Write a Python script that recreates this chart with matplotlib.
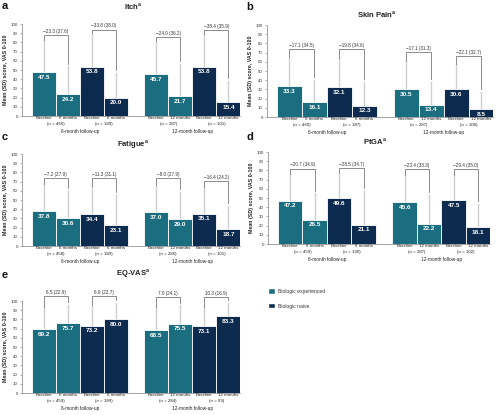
import matplotlib
matplotlib.use('Agg')
import matplotlib.pyplot as plt
from matplotlib.patches import Patch

plt.rcParams['font.family'] = ['Liberation Sans', 'DejaVu Sans']

# ---- data ----
titles = ["Itch", "Skin Pain", "Fatigue", "PtGA", "EQ-VAS"]
letters = ["a", "b", "c", "d", "e"]
ticks = ["Baseline", "6 months", "Baseline", "6 months",
         "Baseline", "12 months", "Baseline", "12 months"]
followups = ["6-month follow-up", "12-month follow-up"]
groups = ["Biologic experienced", "Biologic naive"]

itch_mean = [47.5, 24.2, 53.8, 20.0, 45.7, 21.7, 53.8, 15.4]
itch_sd = [35.5, 29.8, 36.2, 27.0, 35.3, 35.3, 35.2, 22.6]
itch_n = [460, 189, 287, 101]
itch_diff = ["−23.3 (37.6)", "−33.8 (38.0)", "−24.0 (36.2)", "−38.4 (35.9)"]
itch_br = [88, 94, 86, 93.5]

pain_mean = [33.3, 16.1, 32.1, 12.3, 30.5, 13.4, 30.6, 8.5]
pain_sd = [31.7, 23.9, 31.9, 25.7, 30.5, 24.6, 27.4, 18.5]
pain_n = [460, 187, 287, 100]
pain_diff = ["−17.1 (34.5)", "−19.8 (34.6)", "−17.1 (31.3)", "−22.1 (32.7)"]
pain_br = [73.5, 73.5, 71, 66]

fat_mean = [37.8, 30.6, 34.4, 23.1, 37.0, 29.0, 35.1, 18.7]
fat_sd = [29.2, 29.4, 31.1, 32.4, 29.5, 30.0, 29.4, 25.3]
fat_n = [458, 189, 286, 101]
fat_diff = ["−7.2 (27.9)", "−11.3 (31.1)", "−8.0 (27.9)", "−16.4 (24.2)"]
fat_br = [73.5, 73.5, 73.5, 71]

ptga_mean = [47.2, 26.5, 49.6, 21.1, 45.6, 22.2, 47.5, 18.1]
ptga_sd = [29.3, 28.5, 27.9, 36.9, 29.9, 30.8, 27.5, 25.9]
ptga_n = [459, 190, 287, 102]
ptga_diff = ["−20.7 (34.9)", "−28.5 (34.7)", "−23.4 (33.3)", "−29.4 (35.0)"]
ptga_br = [82, 83, 81, 81]

eq_mean = [69.2, 75.7, 73.2, 80.0, 68.5, 75.5, 73.1, 83.3]
eq_sd = [24.3, 20.3, 22.1, 17.8, 25.0, 19.8, 20.4, 14.5]
eq_n = [459, 189, 284, 99]
eq_diff = ["6.5 (22.9)", "6.9 (22.7)", "7.0 (24.1)", "10.3 (16.9)"]
eq_br = [105.5, 105.5, 104.3, 104.3]

TEAL = '#1a6e80'
NAVY = '#0d2b4e'
AXC = '#7f7f7f'

W, H = 500, 415
fig = plt.figure(figsize=(5, 4.15), dpi=100)

def px_axes(l, t, w, h):
    return fig.add_axes([l / W, 1 - (t + h) / H, w / W, h / H])

xpos = [0, 1, 2, 3, 4.67, 5.67, 6.67, 7.67]
colors = [TEAL, TEAL, NAVY, NAVY] * 2

def panel(ax, means, sds, ns, diffs, brs):
    ax.bar(xpos, means, width=1, color=colors, edgecolor='white', linewidth=0.6, zorder=2)
    for x, m, s in zip(xpos, means, sds):
        ax.plot([x, x], [m, m + s], color='#cfcfcf', lw=1.0, zorder=1, clip_on=False)
        ax.annotate(f"{m:.1f}", (x, m), xytext=(0, -2), textcoords='offset points',
                    ha='center', va='top', color='white', fontweight='bold', fontsize=4.6)
    for i in range(4):
        x0, x1 = xpos[2 * i], xpos[2 * i + 1]
        y0 = means[2 * i] + sds[2 * i]
        y1 = means[2 * i + 1] + sds[2 * i + 1] + 3
        h = brs[i]
        ax.plot([x0, x0, x1, x1], [y0, h, h, y1], color='#7a7a7a', lw=0.6,
                zorder=3, clip_on=False)
        ax.text((x0 + x1) / 2, h + 1.2, diffs[i], ha='center', va='bottom',
                fontsize=3.3, color='#333333', clip_on=False)
        ax.annotate(f"(n = {ns[i]})", ((x0 + x1) / 2, 0), xytext=(0, -6.1),
                    textcoords='offset points', ha='center', va='center', fontsize=3.2,
                    color='#222222', annotation_clip=False)
    for x, t in zip(xpos, ticks):
        ax.annotate(t, (x, 0), xytext=(0, -1.6), textcoords='offset points',
                    ha='center', va='center', fontsize=3.2, color='#222222',
                    annotation_clip=False)
    for c, t in zip([1.5, 6.17], followups):
        ax.annotate(t, (c, 0), xytext=(0, -11.2), textcoords='offset points',
                    ha='center', va='center', fontsize=3.4, color='#222222',
                    annotation_clip=False)
    ax.set_xlim(-0.9, 8.15)
    ax.set_ylim(0, 100)
    ax.set_yticks(range(0, 101, 10))
    ax.set_xticks([])
    ax.tick_params(axis='y', labelsize=3.2, length=1.5, width=0.4, color=AXC,
                   labelcolor='#333333', pad=1.5)
    for s in ['top', 'right']:
        ax.spines[s].set_visible(False)
    for s in ['left', 'bottom']:
        ax.spines[s].set_color(AXC)
        ax.spines[s].set_linewidth(0.5)
    ax.set_ylabel("Mean (SD) score, VAS 0-100", fontsize=3.8, fontweight='bold',
                  labelpad=2, color='#222222')

rects = [(22, 24, 218, 92), (267, 25, 226, 92), (22, 154, 218, 92),
         (268, 152, 222, 92), (22, 301, 218, 92)]
data = [(itch_mean, itch_sd, itch_n, itch_diff, itch_br),
        (pain_mean, pain_sd, pain_n, pain_diff, pain_br),
        (fat_mean, fat_sd, fat_n, fat_diff, fat_br),
        (ptga_mean, ptga_sd, ptga_n, ptga_diff, ptga_br),
        (eq_mean, eq_sd, eq_n, eq_diff, eq_br)]
title_pos = [(133, 7), (377, 15), (133, 145), (375, 142), (133, 274)]
letter_pos = [(5, 6), (250, 7), (5, 137), (250, 137), (5, 275)]

for r, d, t, tp, lt, lp in zip(rects, data, titles, title_pos, letters, letter_pos):
    ax = px_axes(*r)
    panel(ax, *d)
    fig.text(tp[0] / W, 1 - tp[1] / H, t + r"$^{\mathregular{a}}$", ha='center', va='center',
             fontsize=5.5, fontweight='bold', color='#222222')
    fig.text(lp[0] / W, 1 - lp[1] / H, lt, ha='center', va='center',
             fontsize=8, fontweight='bold', color='#111111')

handles = [Patch(facecolor=TEAL, edgecolor='white', lw=0.3),
           Patch(facecolor=NAVY, edgecolor='white', lw=0.3)]
fig.legend(handles, groups, loc='upper left', bbox_to_anchor=(269 / W, 1 - 289 / H),
           frameon=False, fontsize=3.6, handlelength=1.1, handleheight=1.1,
           labelspacing=1.9, handletextpad=0.8, borderpad=0, borderaxespad=0,
           labelcolor='#333333')

fig.savefig('out.png', dpi=100)
